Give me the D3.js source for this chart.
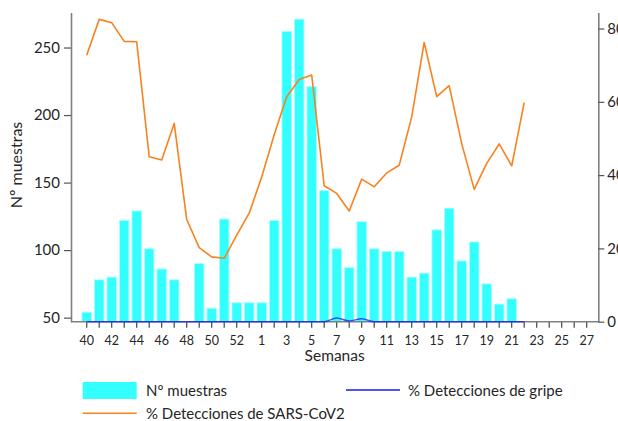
<!DOCTYPE html>
<html>
<head>
<meta charset="utf-8">
<script src="https://cdn.jsdelivr.net/npm/d3@7"></script>
<style>
  html, body { margin: 0; padding: 0; background: #fff; }
  svg { display: block; font-family: Lato, "Open Sans", sans-serif; }
</style>
</head>
<body>
<svg id="chart" width="618" height="421"></svg>
<script>
// ---- data ----
const weeks = ["40","41","42","43","44","45","46","47","48","49","50","51","52","53",
  "1","2","3","4","5","6","7","8","9","10","11","12","13","14","15","16","17","18","19","20","21","22","23","24","25","26","27"];
const muestras = [54,78,80,122,129,101,86,78,null,90,57,123,61,61,
  61,122,262,271,221,144,101,87,121,101,99,99,80,83,115,131,92,106,75,60,64,null,null,null,null,null,null];
const sarsCov2 = [72.7,82.5,81.6,76.5,76.4,45.0,44.1,54.1,27.9,20.2,17.7,17.3,23.6,29.6,
  39.5,51.0,61.4,66.1,67.3,37.1,35.0,30.2,38.9,36.8,40.6,42.7,55.9,76.2,61.4,64.4,48.6,36.1,43.2,48.5,42.5,59.8,null,null,null,null,null];
const gripe = [0,0,0,0,0,0,0,0,0,0,0,0,0,0,
  0,0,0,0,0,0,1.0,0.2,0.8,0,0,0,0,0,0,0,0,0,0,0,0,0,null,null,null,null,null];
const leftTicks = [50,100,150,200,250];
const rightTicks = [0,20,40,60,80];
const rightTickLabels = ["0","20","40","60","80"];
const seriesNames = ["Nº muestras","% Detecciones de gripe","% Detecciones de SARS-CoV2"];
const xTitle = "Semanas";
const yTitle = "Nº muestras";

// ---- layout ----
const plotLeft = 71, plotRight = 598.3, plotTop = 12.4, plotBottom = 321.7;
const svg = d3.select("#chart");

const x = d3.scaleBand().domain(d3.range(weeks.length))
  .range([80.45, 592.95]).paddingInner(0.24).paddingOuter(0.12);
const yL = d3.scaleLinear().domain([47, 276]).range([plotBottom, plotTop]);
const yR = d3.scaleLinear().domain([0, 84.4]).range([plotBottom, plotTop]);
const cx = i => x(i) + x.bandwidth() / 2;

const axisColor = "#808080";
const textColor = "#262626";
const barColor = "#33ffff";
const orange = "#f8821e";
const blue = "#1a1aee";

// bars
svg.append("g").selectAll("rect")
  .data(muestras.map((v, i) => ({v, i})).filter(d => d.v != null))
  .join("rect")
  .attr("x", d => x(d.i))
  .attr("width", x.bandwidth())
  .attr("y", d => yL(d.v))
  .attr("height", d => yL.range()[0] - yL(d.v))
  .attr("fill", barColor)
  .attr("stroke", "#a8ffff")
  .attr("stroke-width", 0.8);

// axes
const gL = svg.append("g").attr("transform", `translate(${plotLeft},0)`)
  .call(d3.axisLeft(yL).tickValues(leftTicks).tickSize(7).tickSizeOuter(0).tickPadding(4));
const gR = svg.append("g").attr("transform", `translate(${plotRight},0)`)
  .call(d3.axisRight(yR).tickValues(rightTicks).tickSize(6).tickSizeOuter(0).tickPadding(3)
    .tickFormat((d, i) => rightTickLabels[i]));
const gX = svg.append("g").attr("transform", `translate(0,${plotBottom})`)
  .call(d3.axisBottom(x).tickSize(6).tickSizeOuter(0).tickPadding(8)
    .tickFormat(i => i % 2 === 0 ? weeks[i] : ""));
gX.select(".domain").remove();
svg.append("line")
  .attr("x1", plotLeft).attr("x2", plotRight)
  .attr("y1", plotBottom).attr("y2", plotBottom)
  .attr("stroke", axisColor).attr("stroke-width", 1.6);

[gL, gR].forEach(g => {
  g.select(".domain").attr("stroke", axisColor).attr("stroke-width", 1.6);
  g.selectAll(".tick line").attr("stroke", "#555").attr("stroke-width", 1.2);
  g.selectAll(".tick text").attr("fill", textColor).style("font-size", "15px").style("font-family", "Lato");
});
gX.selectAll(".tick line").attr("stroke", "#444").attr("stroke-width", 1.2);
gX.selectAll(".tick text").attr("fill", textColor).style("font-size", "12.5px").style("font-family", "Lato");

// lines
const lineR = d3.line().defined(d => d != null).x((d, i) => cx(i)).y(d => yR(d));
svg.append("path").datum(gripe)
  .attr("d", d3.line().defined(d => d != null).x((d, i) => cx(i)).y(d => yR(d)).curve(d3.curveMonotoneX))
  .attr("fill", "none").attr("stroke", blue).attr("stroke-width", 1.4).attr("stroke-opacity", 0.75);
svg.append("path").datum(sarsCov2)
  .attr("d", lineR)
  .attr("fill", "none").attr("stroke", orange).attr("stroke-width", 1.6).attr("stroke-linejoin", "round");

// titles
svg.append("text").attr("transform", `translate(22,165) rotate(-90)`)
  .attr("text-anchor", "middle").attr("fill", textColor)
  .style("font-size", "16px").text(yTitle);
svg.append("text").attr("x", (plotLeft + plotRight) / 2).attr("y", 361)
  .attr("text-anchor", "middle").attr("fill", textColor)
  .style("font-size", "15.5px").text(xTitle);

// legend
const lg = svg.append("g").style("font-size", "15px").attr("fill", textColor);
lg.append("rect").attr("x", 82.7).attr("y", 382).attr("width", 54).attr("height", 17)
  .attr("fill", barColor);
lg.append("text").attr("x", 146).attr("y", 396).text(seriesNames[0]);
lg.append("line").attr("x1", 346).attr("x2", 400).attr("y1", 390).attr("y2", 390)
  .attr("stroke", blue).attr("stroke-width", 1.4);
lg.append("text").attr("x", 408).attr("y", 396).text(seriesNames[1]);
lg.append("line").attr("x1", 82.7).attr("x2", 136.7).attr("y1", 413.3).attr("y2", 413.3)
  .attr("stroke", orange).attr("stroke-width", 1.6);
lg.append("text").attr("x", 146).attr("y", 419).text(seriesNames[2]);
</script>
</body>
</html>
